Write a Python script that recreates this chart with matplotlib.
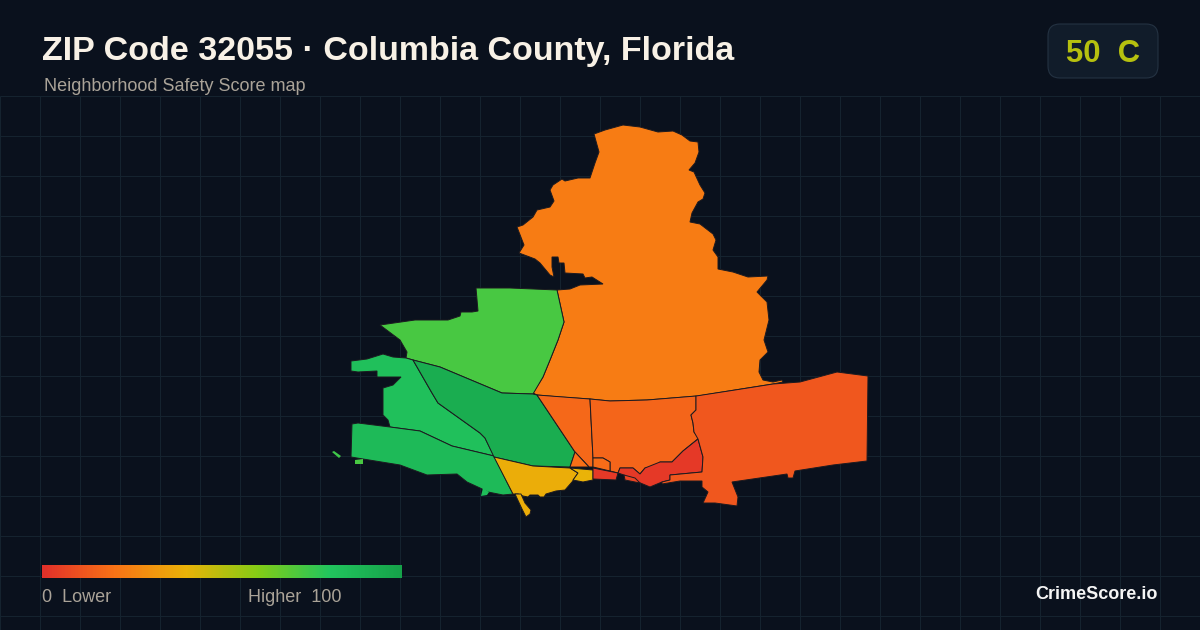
import numpy as np
import matplotlib
matplotlib.use("Agg")
import matplotlib.pyplot as plt
from matplotlib.colors import LinearSegmentedColormap, Normalize
from matplotlib.patches import FancyBboxPatch, Polygon

plt.rcParams['font.family'] = ['Liberation Sans', 'DejaVu Sans']

# neighborhood outlines, traced in map units
north = [(594,134),(605,130),(623,125),(640,127),(658,132),(673,131),(682,135),(690,141),(698,142),
         (699,152),(695,163),(689,170),(694,172),(700,185),(705,193),(703,199),(698,202),(692,213),
         (690,222),(700,224),(713,234),(716,240),(713,250),(718,257),(718,269),(733,272),(748,277),
         (768,276),(767,280),(757,292),(767,302),(769,320),(764,340),(768,352),(760,360),(759,372),
         (763,380),(773,382),(782,380),(783,382),(773,384),(735,390),(698,396),(647,400),(610,401),
         (590,399),(560,397),(537,395),(533,393),(543,377),(550,360),(558,340),(564,322),(557,290),
         (570,289),(580,285),(603,284),(592,277),(585,278),(583,274),(565,273),(564,263),(559,263),
         (558,257),(552,257),(552,267),(554,277),(550,275),(540,263),(535,259),(519,253),(524,245),
         (517,227),(523,225),(533,217),(537,210),(550,207),(554,201),(550,190),(553,185),(562,179),
         (565,181),(578,178),(590,178),(595,163),(599,152)]
northwest = [(476,288),(510,288),(557,290),(564,322),(558,340),(550,360),(543,377),(533,394),(502,393),
             (440,367),(413,360),(406,358),(407,352),(400,340),(380,325),(415,320),(448,320),(460,316),
             (461,312),(472,312),(478,311)]
west = [(351,361),(367,359),(383,354),(393,357),(406,358),(413,360),(432,393),(438,403),(480,433),
        (485,438),(494,456),(452,446),(420,431),(390,427),(388,420),(383,415),(383,388),(393,385),
        (401,377),(377,377),(377,371),(358,372),(351,371)]
southwest = [(352,424),(358,423),(390,427),(420,431),(452,446),(494,456),(513,494),(503,495),(488,492),
             (480,488),(467,482),(457,474),(427,475),(400,465),(363,459),(351,457)]
sw_islet_a = [(332,452),(334,451),(341,456),(339,458)]
sw_islet_b = [(481,496),(483,488),(489,492),(487,495)]
nw_islet = [(355,460),(363,459),(363,464),(355,464)]
central = [(413,360),(440,367),(502,393),(533,394),(537,395),(575,452),(570,467),(533,466),(494,457),
           (485,438),(480,433),(438,403),(432,393)]
south = [(494,457),(533,466),(570,468),(578,473),(572,482),(565,490),(556,491),(546,494),(544,497),
         (540,497),(538,495),(530,495),(528,497),(523,496),(518,494),(513,494)]
south_tail = [(515,494),(521,494),(525,503),(531,510),(530,514),(526,517),(522,509)]
south_strip = [(570,468),(593,470),(593,480),(583,482),(573,480),(578,473)]
mid_west = [(537,395),(590,399),(593,458),(593,467),(589,467),(575,452)]
mid_sliver = [(575,452),(589,467),(570,467)]
mid = [(590,399),(610,401),(647,400),(696,396),(696,410),(691,415),(693,423),(694,432),(699,438),
       (683,451),(672,462),(660,462),(657,467),(645,468),(640,474),(633,468),(620,468),(618,473),
       (610,471),(610,462),(603,458),(593,458)]
mid_pocket = [(593,458),(603,458),(610,462),(610,471),(593,467)]
red_west = [(593,468),(618,473),(616,480),(593,479)]
red_main = [(698,439),(703,457),(702,472),(670,475),(670,480),(662,482),(650,487),(638,482),(625,480),
            (624,475),(618,473),(620,468),(633,468),(640,474),(645,468),(660,462),(672,462),(683,451)]
red_pocket = [(624,475),(635,478),(640,483),(625,480)]
east = [(696,396),(735,390),(773,384),(800,382),(837,372),(868,376),(867,461),(833,465),(795,471),
        (793,478),(788,478),(787,474),(732,482),(738,497),(737,506),(715,503),(703,503),(708,492),
        (702,487),(702,481),(680,481),(662,484),(662,482),(670,480),(670,475),(702,472),(703,457),
        (698,439),(694,432),(693,423),(691,415),(696,410)]

regions = [north, northwest, west, southwest, central, south, south_tail,
           south_strip, mid_west, mid_sliver, mid, mid_pocket, red_west, red_main, red_pocket, east]
scores = [23, 72, 83, 86, 94, 38, 38, 40, 17, 19, 16, 18, 3, 3, 6, 12]

# tiny detached pieces, no outline or they vanish
islets = [sw_islet_a, sw_islet_b, nw_islet]
islet_scores = [74, 84, 72]

# legend color ramp
ramp_stops = [0, 20, 40, 60, 80, 100]
ramp_colors = ['#e2302a', '#f97316', '#eab308', '#84cc16', '#22c55e', '#16a34a']

zip_score = 50
zip_grade = "C"

bg = '#0a111d'
grid = '#15232f'

cmap = LinearSegmentedColormap.from_list('safety', [(s / 100, c) for s, c in zip(ramp_stops, ramp_colors)])
norm = Normalize(0, 100)

fig = plt.figure(figsize=(12, 6.3), dpi=100, facecolor=bg)
ax = fig.add_axes([0, 0, 1, 1])
ax.axis('off')

# legend bar
ax.imshow(np.linspace(0, 100, 360)[None, :], cmap=cmap, norm=norm, extent=(42, 402, 578, 565),
          aspect='auto', zorder=4)
ax.set_xlim(0, 1200)
ax.set_ylim(630, 0)

# background grid starts below the header
ax.vlines(np.arange(0, 1201, 40), 96, 630, color=grid, lw=0.72, zorder=1)
ax.hlines(np.arange(96, 630, 40), 0, 1200, color=grid, lw=0.72, zorder=1)

for outline, score in zip(regions, scores):
    ax.add_patch(Polygon(outline, closed=True, facecolor=cmap(norm(score)), edgecolor='#1c1a20', lw=0.7, zorder=3))
for outline, score in zip(islets, islet_scores):
    ax.add_patch(Polygon(outline, closed=True, facecolor=cmap(norm(score)), edgecolor='none', zorder=3))

ax.text(42, 60, "ZIP Code 32055 · Columbia County, Florida", color='#f8f1e6', fontsize=24.5,
        fontweight='bold', ha='left', va='baseline')
ax.text(44, 91, "Neighborhood Safety Score map", color='#aaa398', fontsize=12.96, ha='left', va='baseline')

badge = FancyBboxPatch((1060, 36), 86, 30, boxstyle="round,pad=12,rounding_size=12",
                       facecolor='#111c2a', edgecolor='#243242', lw=0.8, zorder=4)
ax.add_patch(badge)
ax.text(1103, 62, f"{zip_score}  {zip_grade}", color=cmap(norm(zip_score)), fontsize=22.3,
        fontweight='bold', ha='center', va='baseline', zorder=5)

ax.text(42, 602, "0  Lower", color='#aaa398', fontsize=12.96, ha='left', va='baseline')
ax.text(342, 602, "Higher  100", color='#aaa398', fontsize=12.96, ha='right', va='baseline')
ax.text(1158, 599, "CrimeScore.io", color='#f5f5f5', fontsize=13, fontweight='bold', ha='right', va='baseline')

fig.savefig('out.png', dpi=100, facecolor=bg)
